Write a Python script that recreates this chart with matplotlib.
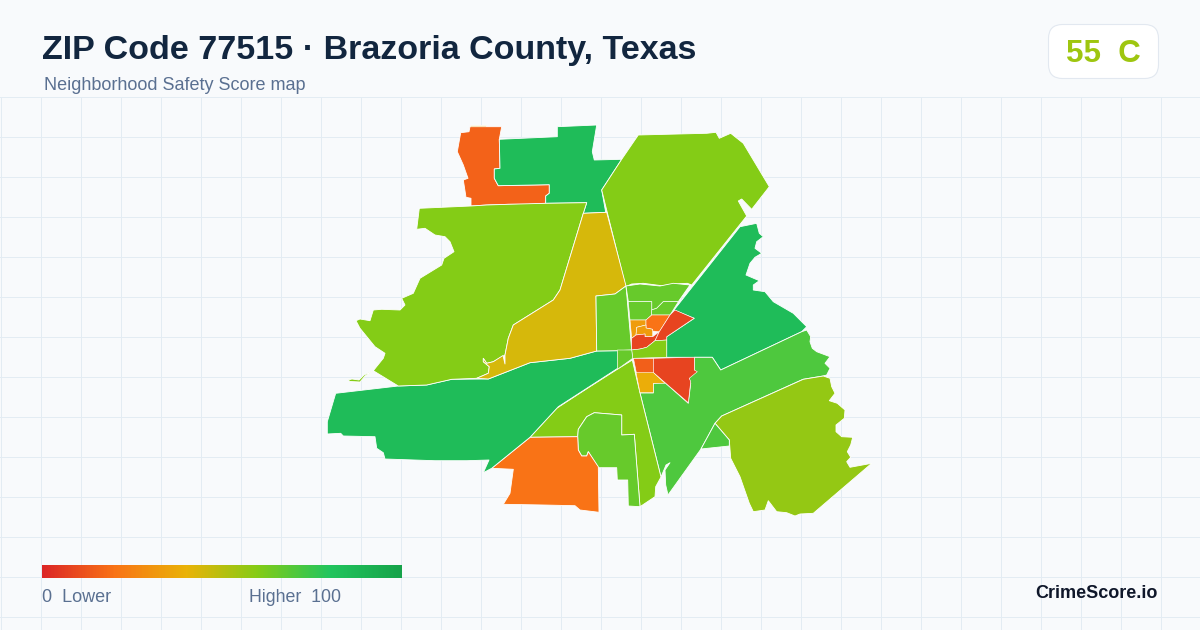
import matplotlib
matplotlib.use('Agg')
import matplotlib.pyplot as plt
import numpy as np
from matplotlib.colors import LinearSegmentedColormap
from matplotlib.patches import FancyBboxPatch, Polygon

# region outlines, in reference pixels
nw_sliver = [(470,125),(486,125),(486,127),(470,127)]
nw_orange = [(470,126.7),(501.7,126.7),(499.3,139.3),(500,168.3),(494.3,169),(494.3,178.3),(498.3,185.7),(549.3,184.7),(549.3,193.3),(545.7,196),(545.7,203.3),(528.3,204.3),(508.3,204.3),(486.7,205),(471,206),(471,198.3),(466,197.3),(463.3,180),(468,178.3),(463.3,165),(457.3,151.7),(460.7,132.7),(469,131.7)]
north_green = [(499.3,139.3),(557.3,136.7),(557.3,126.7),(596.7,125),(592.3,151.7),(594.3,160),(621.7,159.3),(601.7,190),(605.7,212.3),(583.3,213.3),(586.7,202.7),(545.7,203.3),(545.7,196),(549.3,193.3),(549.3,184.7),(498.3,185.7),(494.3,178.3),(494.3,169),(500,168.3)]
north_lime = [(638.3,135),(706.7,133.3),(716,132.3),(719.3,138.3),(730.7,133.3),(743.3,143.3),(769.3,186.7),(751.7,209.3),(741.7,199),(738.3,201),(746.7,216),(691.7,285),(687.3,283.3),(675,284),(661.7,285.7),(643.3,283.3),(631.7,284),(625.7,286.7),(601.7,190),(621.7,159.3)]
east_green = [(674,310),(740,226.7),(756.7,223.3),(759.3,233.3),(763.3,236.7),(756.7,241.7),(755,248.3),(761.7,253.3),(755,257.3),(750,263.3),(746,275),(759.3,280.7),(753.3,285),(753.3,290),(765,291.7),(773.3,301.7),(793.3,313.3),(806.7,326.7),(801.7,331.7),(720.7,370),(712.3,357.3),(666.7,357.3),(666.7,336.7),(694.3,318.3)]
se_green = [(640,393),(653.3,393),(653.3,383.3),(665,382.7),(688.3,403.3),(690.7,383.3),(688.7,377),(695.5,371.5),(694.3,370),(694.3,357.3),(712.3,357.3),(720.7,370),(801.7,331.7),(806.7,330),(810.7,336.7),(810,341.7),(812.3,348.3),(816.7,351.7),(830,356.7),(825,363.3),(830,368.3),(826.7,375),(823,376),(803,379.3),(721.7,416),(715,423.3),(701,449),(668,495),(665.7,485),(665,470),(670,462.7),(666,465),(661,477)]
se_olive = [(721.7,416),(803.3,379.3),(823.3,376),(830,378.3),(831.7,386.7),(835,393.3),(829.3,400.7),(837.3,403.3),(845,410),(844.3,418.3),(836,425),(836,431.7),(841.7,436.7),(852.7,437.3),(850.7,445),(847.3,451.7),(850.7,457.3),(846.7,461.7),(850,467.3),(871.7,463.3),(813.3,513.3),(800,514),(795,516),(786.7,512.7),(776.7,511.7),(768.3,500.7),(765,510),(753.3,511.7),(749.3,503.3),(740,476.7),(730.7,458.3),(729.3,440),(715,423.3)]
se_small = [(715,423.3),(729.3,440),(729.3,446),(701,449)]
south_lime = [(632.3,360),(640,393),(661,477),(655.7,486.7),(655,496.7),(640,506.7),(634.3,434.3),(621.7,435),(621.7,415),(594.3,412.7),(586.7,416.7),(578.3,429.3),(577.7,436.7),(530,437.3),(556.7,408.3),(590,386.7),(617,369.5)]
south_light = [(594.3,412.7),(621.7,415),(621.7,435),(634.3,434.3),(640,506.7),(628.3,506),(627.7,480),(617.3,480),(616.7,467.7),(598.3,467.7),(588.3,451.7),(586.7,456),(581.7,456),(578.3,450),(577.7,436.7),(578.3,429.3),(586.7,416.7)]
south_orange = [(530,437.3),(577.7,436.7),(578.3,450),(581.7,456),(586.7,456),(588.3,451.7),(598.3,466.7),(599,512.3),(580,510),(575,505.7),(543.3,505),(503.3,504.3),(510,493.3),(513.3,469.3),(491.7,468.3)]
sw_green = [(335.7,393.3),(398.3,386),(426.7,385),(451.7,379.3),(488.3,379),(530,362.7),(570,358.3),(596.7,351),(617.7,350.7),(617.7,368.3),(558.3,406.7),(530,437.3),(491.7,468.3),(483.3,472.7),(489,460),(466.7,460.7),(435,460.7),(385,459),(383.3,452.7),(376.7,448.3),(375,436.7),(343.3,436),(340.7,433.3),(327.3,434),(327.3,421.7)]
west_lime = [(419.3,208.3),(471,206),(486.7,205),(508.3,204.3),(545.7,203.3),(586.7,202.7),(583.3,213.3),(560,290),(553.3,300),(513.3,325),(508.3,338.3),(505,355),(493.3,361.7),(486.7,363.3),(483.3,358.3),(483.3,361.7),(489.3,366.7),(488.3,373.3),(476.7,378.3),(451.7,379.3),(426.7,385),(398.3,386),(373.3,370.7),(383.3,358.3),(385,353.3),(375,346.7),(360,328.3),(356,320.7),(360,319),(370,320.7),(373.3,310),(381.7,309.3),(400,310),(405,305),(401.7,298.3),(413.3,293.3),(420,278.3),(441.7,265),(444,258.3),(454,251.7),(450,241.7),(445,236.7),(435,235),(425,228.3),(416.7,229.3)]
west_islet = [(373.3,370.7),(365,376),(360,382),(350,381.5),(348,380),(352,379),(359,380),(364,375)]
mid_yellow = [(583.3,213.3),(606.7,212.3),(626,286),(615,294),(596,296),(596.7,351),(570,358.3),(530,362.7),(488.3,379),(476.7,378.3),(488.3,373.3),(489.3,366.7),(483.3,361.7),(483.3,358.3),(486.7,363.3),(493.3,361.7),(503,355.5),(505,364),(505,355),(508.3,338.3),(513.3,325),(553.3,300),(560,290)]
west_center = [(596,296),(615,294),(626,286),(631.7,350),(617.7,350.7),(596.7,351)]
north_band = [(626,286),(640,284),(660,286),(673.3,283.3),(690,285),(678.3,301.7),(663.3,301.7),(656.7,308.3),(651.7,310),(651.7,301.7),(628.3,301.7)]
core_second = [(628.3,301.7),(651.7,301.7),(651.7,315),(646,320),(630,320)]
core_right = [(651.7,310),(656.7,308.3),(663.3,301.7),(678.3,301.7),(670,315),(651.7,315)]
core_amber_a = [(630,320),(646,320),(646,325),(636.7,327.3),(636,335),(631.7,338.3)]
core_orange = [(646,320),(651.7,315),(670,315),(659.3,331.7),(652.7,331),(652.7,329.3),(646,328)]
core_amber_c = [(636.7,327.3),(646,325),(646,328),(652.7,329.3),(652.7,336.7),(645,336.7),(645,334),(636,335)]
core_red = [(631.7,338.3),(636,335),(645,334),(645,336.7),(652.7,336.7),(659.3,331.7),(655,340.7),(646.7,347.3),(640,349),(631.7,350)]
ne_red = [(675,310),(694,318.3),(666.7,336.7),(666.7,340),(655,340.7),(659.3,331.7),(670,315)]
core_lime = [(631.7,350),(640,349),(646.7,347.3),(655,340.7),(666.7,340),(666.7,357.3),(632.7,358.3)]
core_small = [(617.3,350),(631.7,350),(632.7,358.3),(617.3,369.3)]
low_orange = [(632.7,358.3),(653.3,358.3),(653.3,372.5),(636,372.5)]
low_red = [(653.3,358.3),(694.3,357.3),(694.3,370),(697.3,371.7),(689.3,378.3),(690.7,381.7),(688.3,402.7),(653.3,372.5)]
low_amber = [(636,372.5),(653.3,372.5),(665,383.3),(653.3,383.3),(653.3,392.7),(640,392.7)]

regions = [nw_sliver, nw_orange, north_green, north_lime, east_green, se_green, se_olive, se_small, south_lime,
           south_light, south_orange, sw_green, west_lime, west_islet, mid_yellow, west_center, north_band]
scores = [42, 16, 85, 60, 85, 71, 57, 71, 60,
          66, 20, 85, 60, 60, 44, 66, 66]
core_regions = [core_second, core_right, core_amber_a, core_orange, core_amber_c, core_red, ne_red, core_lime,
                core_small, low_orange, low_red, low_amber]
core_scores = [66, 66, 33, 20, 33, 8, 8, 60,
               66, 15, 8, 38]

ramp_colors = ['#dc2626', '#f97316', '#eab308', '#84cc16', '#22c55e', '#16a34a']
grid_x = np.arange(0.5, 1200, 40)
grid_y = np.arange(96.5, 630, 40)

ramp = LinearSegmentedColormap.from_list('safety', ramp_colors)

fig = plt.figure(figsize=(12, 6.3), dpi=100, facecolor='#f8fafc')
ax = fig.add_axes([0, 0, 1, 1])
ax.set_xlim(0, 1200)
ax.set_ylim(630, 0)
ax.axis('off')
plt.rcParams['font.family'] = ['Liberation Sans', 'DejaVu Sans']

# background grid starts under the header
for x in grid_x:
    ax.plot([x, x], [96.5, 630], color='#e3ecf3', lw=0.72, zorder=1)
for y in grid_y:
    ax.plot([0, 1200], [y, y], color='#e3ecf3', lw=0.72, zorder=1)

for outline, score in zip(regions, scores):
    ax.add_patch(Polygon(outline, closed=True, facecolor=ramp(score / 100), edgecolor='white', lw=0.6, joinstyle='round', zorder=3))
# the small downtown tracts get a thinner edge or the white swamps them
for outline, score in zip(core_regions, core_scores):
    ax.add_patch(Polygon(outline, closed=True, facecolor=ramp(score / 100), edgecolor='white', lw=0.4, joinstyle='round', zorder=3))

ax.text(42, 50, 'ZIP Code 77515 · Brazoria County, Texas', fontsize=24.5, fontweight='bold', color='#12263f', va='center', ha='left', zorder=5)
ax.text(44, 85.5, 'Neighborhood Safety Score map', fontsize=13, color='#5a7091', va='center', ha='left', zorder=5)

# score badge
ax.add_patch(FancyBboxPatch((1048.5, 24.5), 110, 54, boxstyle='round,pad=0,rounding_size=14', facecolor='white', edgecolor='#e2e8f0', lw=0.8, zorder=4))
ax.text(1103, 53.5, '55  C', fontsize=22.5, fontweight='bold', color='#9ec610', va='center', ha='center', zorder=5)

# legend bar
gradient = np.linspace(0, 1, 360).reshape(1, -1)
ax.imshow(gradient, cmap=ramp, extent=(42, 402, 578, 565), aspect='auto', zorder=4)
ax.set_xlim(0, 1200)
ax.set_ylim(630, 0)
ax.text(42, 598, '0  Lower', fontsize=13, color='#5a7091', va='center', ha='left', zorder=5)
ax.text(249, 598, 'Higher  100', fontsize=12.8, color='#5a7091', va='center', ha='left', zorder=5)
ax.text(1158, 594, 'CrimeScore.io', fontsize=13, fontweight='bold', color='#0f172a', va='center', ha='right', zorder=5)

fig.savefig('out.png', dpi=100, facecolor=fig.get_facecolor())
